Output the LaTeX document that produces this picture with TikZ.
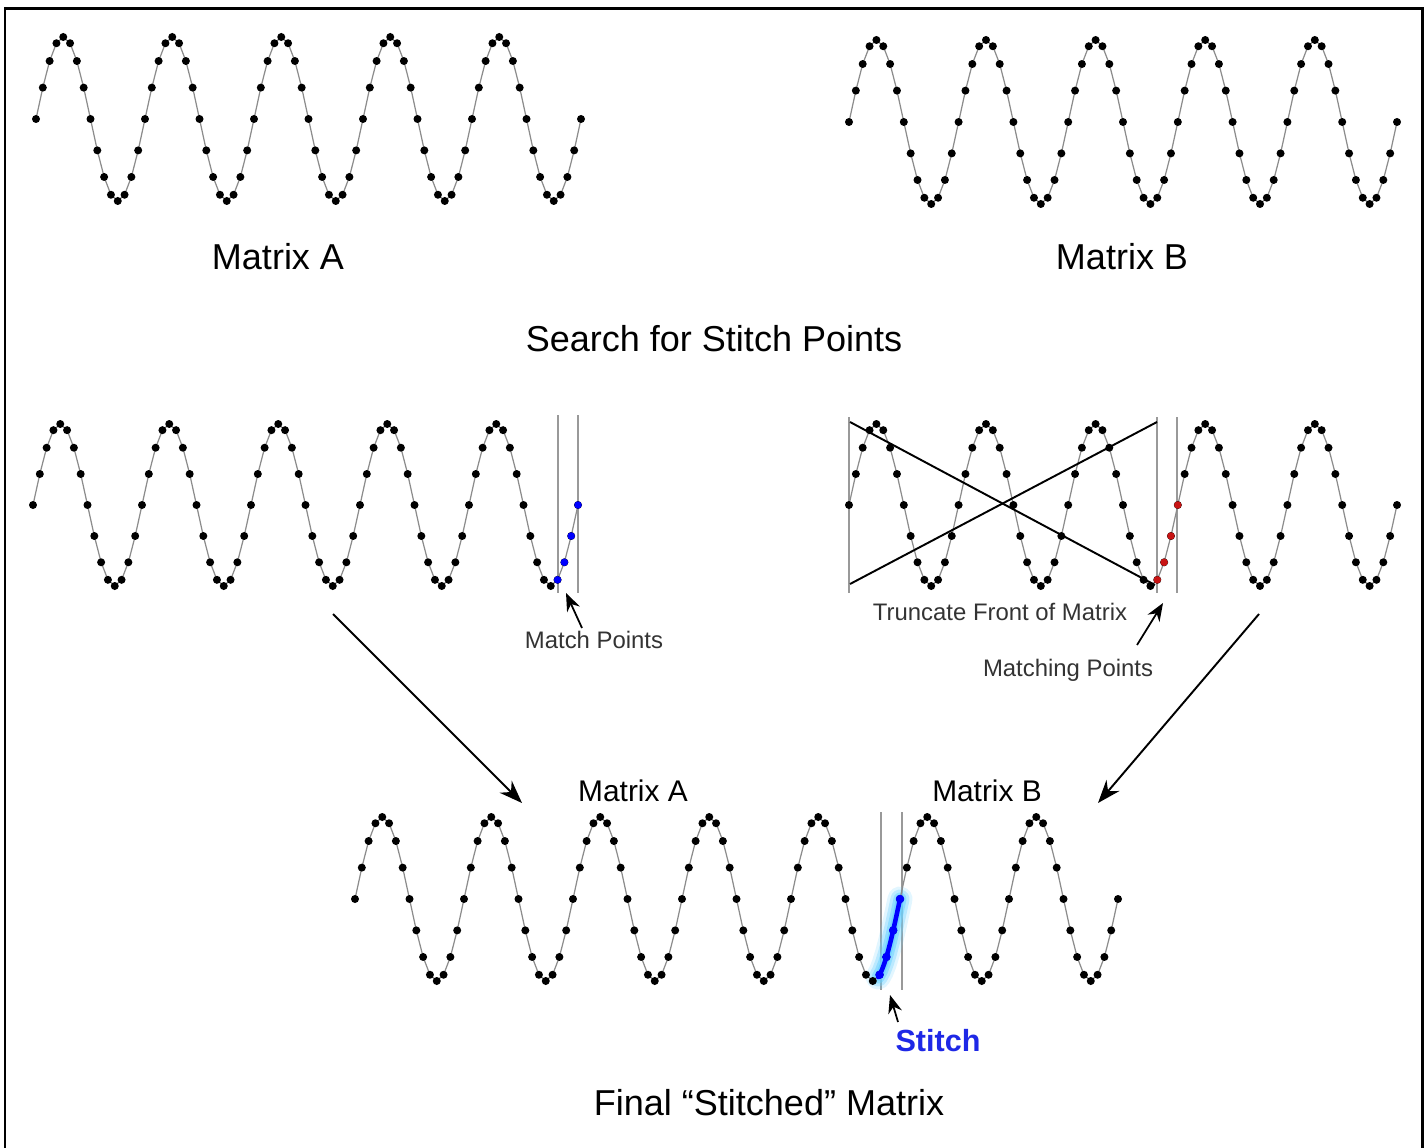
\documentclass[tikz,border=0pt]{standalone}
\usepackage{fontspec}
\setmainfont{Liberation Sans}
\usetikzlibrary{arrows.meta}
\definecolor{stitchblue}{RGB}{30,40,230}
\definecolor{matchred}{RGB}{200,20,20}
\definecolor{glowcyan}{RGB}{110,210,255}

\begin{document}
\begin{tikzpicture}[x=0.02cm, y=-0.02cm,
    wave/.style={black!45, line width=0.7pt},
    guide/.style={black!40, line width=0.8pt},
    cross/.style={black, line width=1.1pt},
    bigarrow/.style={-{Stealth[length=0.46cm, width=0.34cm]}, line width=1.1pt},
    smallarrow/.style={-{Stealth[length=0.36cm, width=0.28cm]}, line width=1pt},
    title/.style={font=\fontsize{20.5}{24}\selectfont, anchor=base},
    sublabel/.style={font=\fontsize{17}{20}\selectfont, anchor=base},
    note/.style={font=\fontsize{13.6}{16}\selectfont, anchor=base, text=black!80}]
  \useasboundingbox (0,0) rectangle (1425,1148);

  % Outer frame (bottom edge runs off the page)
  \draw[line width=1.7pt] (5,1148) -- (5,9) -- (1422,9) -- (1422,1148);

  % Guide lines around the stitch points
  \draw[guide] (558,415) -- (558,593);
  \draw[guide] (578,415) -- (578,593);
  \draw[guide] (849,417) -- (849,593);
  \draw[guide] (1157,417) -- (1157,593);
  \draw[guide] (1177,417) -- (1177,593);
  \draw[guide] (881,812) -- (881,990);
  \draw[guide] (902,812) -- (902,990);

  % Stitch glow in the final matrix
  \pgfmathsetmacro{\dx}{109/16}
  \foreach \w/\op in {0.5cm/0.2, 0.38cm/0.35, 0.26cm/0.55, 0.16cm/0.8}
    \draw[glowcyan, line width=\w, line cap=round, opacity=\op]
      plot[domain=76.8:80, samples=8] ({355+\x*\dx}, {899-82*sin(\x*22.5)});

  % Sampled sine waves: start x / centre y / period / amplitude / last sample
  \foreach \xa/\ya/\per/\amp/\n in {36/119/109/82/80, 849/122/109.6/82/80,
      33/505/109/81/80, 849/505/109.6/81/80, 355/899/109/82/112} {
    \pgfmathsetmacro{\dxw}{\per/16}
    \pgfmathtruncatemacro{\ns}{\n+1}
    \draw[wave] plot[domain=0:\n, samples=\ns] ({\xa+\x*\dxw}, {\ya-\amp*sin(\x*22.5)});
    \foreach \k in {0,...,\n}
      \fill ({\xa+\k*\dxw}, {\ya-\amp*sin(\k*22.5)}) circle[radius=0.08cm];
  }

  % Match points at the end of Matrix A
  \foreach \k in {77,...,80}
    \fill[blue] ({33+\k*\dx}, {505-81*sin(\k*22.5)}) circle[radius=0.075cm];

  % Matching points inside Matrix B
  \pgfmathsetmacro{\dxb}{109.6/16}
  \foreach \k in {45,...,48}
    \fill[matchred] ({849+\k*\dxb}, {505-81*sin(\k*22.5)}) circle[radius=0.075cm];

  % Truncated front of Matrix B
  \draw[cross] (850,422) -- (1155,585);
  \draw[cross] (850,584) -- (1157,422);

  % Stitch line in the final matrix
  \draw[blue, line width=2.6pt, line cap=round]
    plot[domain=76.8:80, samples=12] ({355+\x*\dx}, {899-82*sin(\x*22.5)});
  \foreach \k in {77,...,80}
    \fill[blue] ({355+\k*\dx}, {899-82*sin(\k*22.5)}) circle[radius=0.085cm];

  % Labels
  \node[title] (titleA) at (278,270) {Matrix A};
  \node[title] (titleB) at (1122,270) {Matrix B};
  \node[title] (search) at (714,352) {Search for Stitch Points};
  \node[note] (matchA) at (594,648) {Match Points};
  \node[note] (truncB) at (1000,620) {Truncate Front of Matrix};
  \node[note] (matchB) at (1068,676) {Matching Points};
  \node[sublabel] (finalA) at (633,801) {Matrix A};
  \node[sublabel] (finalB) at (987,801) {Matrix B};
  \node[anchor=base, text=stitchblue, font=\bfseries\fontsize{17.4}{20}\selectfont] (stitch) at (938,1051) {Stitch};
  \node[title] (final) at (769,1115) {Final “Stitched” Matrix};

  % Arrow ends
  \coordinate (mpTail) at (582,628);
  \coordinate (mpTip) at (566,593);
  \coordinate (mbTail) at (1137,645);
  \coordinate (mbTip) at (1163,603);
  \coordinate (stTail) at (898,1022);
  \coordinate (stTip) at (890,995);
  \coordinate (leftFrom) at (333,614);
  \coordinate (leftTo) at (522,803);
  \coordinate (rightFrom) at (1259,614);
  \coordinate (rightTo) at (1098,803);

  \draw[smallarrow] (mpTail) -- (mpTip);
  \draw[smallarrow] (mbTail) -- (mbTip);
  \draw[smallarrow] (stTail) -- (stTip);
  \draw[bigarrow] (leftFrom) -- (leftTo);
  \draw[bigarrow] (rightFrom) -- (rightTo);
\end{tikzpicture}
\end{document}
